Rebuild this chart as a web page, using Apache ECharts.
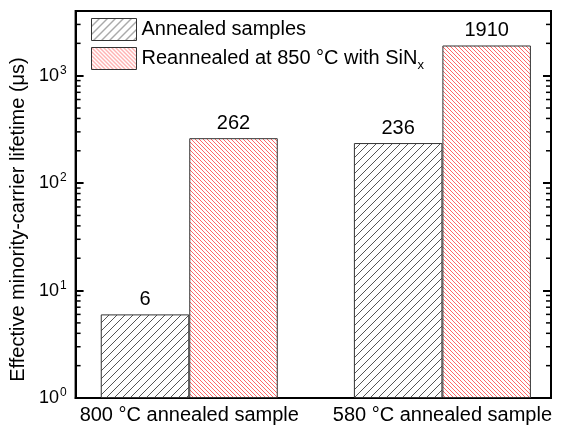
<!DOCTYPE html>
<html>
<head>
<meta charset="utf-8">
<script src="https://cdn.jsdelivr.net/npm/echarts@6/dist/echarts.min.js"></script>
<style>
  html, body { margin: 0; padding: 0; background: #fff; }
  #chart { width: 564px; height: 428px; }
</style>
</head>
<body>
<div id="chart"></div>
<script>
var categories = ['800 °C annealed sample', '580 °C annealed sample'];
var seriesNames = ['Annealed samples', 'Reannealed at 850 °C with SiNx'];
var annealed = [6, 236];
var reannealed = [262, 1910];
var yMin = 1, yMax = 4000;

// minor tick positions of the log axis (2..9 in every decade)
var minorTicks = [];
for (var d = 1; d <= 1000; d *= 10) {
  for (var k = 2; k <= 9; k++) {
    if (d * k < yMax) minorTicks.push([1, d * k]);
  }
}

function hatch(size, color, lw, back) {
  var c = document.createElement('canvas');
  c.width = size; c.height = size;
  var ctx = c.getContext('2d');
  ctx.fillStyle = '#fff';
  ctx.fillRect(0, 0, size, size);
  ctx.strokeStyle = color;
  ctx.lineWidth = lw;
  for (var o = -size; o <= size; o += size) {
    ctx.beginPath();
    if (back) {
      ctx.moveTo(o, 0); ctx.lineTo(o + size, size);
    } else {
      ctx.moveTo(o, size); ctx.lineTo(o + size, 0);
    }
    ctx.stroke();
  }
  return c;
}

var blackFill = { image: hatch(8, '#555', 1, false), repeat: 'repeat' };
var redFill = { image: hatch(4, 'rgba(255,40,40,0.7)', 1, true), repeat: 'repeat' };

// category i sits at x = i + 1 on a hidden numeric axis
function pairs(vals) {
  return vals.map(function (v, i) { return [i + 1, v]; });
}

var chart = echarts.init(document.getElementById('chart'));
var font = 'Liberation Sans, Arial, sans-serif';

var barLabel = {
  show: true, position: 'top', distance: 5, fontSize: 20, color: '#000',
  formatter: function (p) { return p.value[1]; }
};

chart.setOption({
  animation: false,
  textStyle: { fontFamily: font, color: '#000' },
  grid: {
    left: 72, right: 13, top: 11, bottom: 30,
    show: true, borderColor: '#000', borderWidth: 2
  },
  legend: {
    orient: 'vertical',
    left: 86, top: 13,
    itemWidth: 45, itemHeight: 22, itemGap: 6,
    data: [
      { name: seriesNames[0], icon: 'rect', itemStyle: { color: blackFill, borderColor: '#333', borderWidth: 1 } },
      { name: seriesNames[1], icon: 'rect', itemStyle: { color: redFill, borderColor: '#333', borderWidth: 1 } }
    ],
    textStyle: {
      fontSize: 20, color: '#000',
      rich: { sub: { fontSize: 13, verticalAlign: 'bottom', padding: [14, 0, 0, 0] } }
    },
    formatter: function (name) {
      if (name.slice(-4) === 'SiNx') return name.slice(0, -1) + '{sub|x}';
      return name;
    }
  },
  xAxis: {
    type: 'value',
    min: 0.551, max: 2.429,
    splitLine: { show: false },
    axisLine: { lineStyle: { color: '#000', width: 2 } },
    axisTick: { show: false },
    axisLabel: {
      customValues: [1, 2],
      fontSize: 20, color: '#000', margin: 7,
      formatter: function (v) { return categories[Math.round(v) - 1] || ''; }
    }
  },
  yAxis: [
    {
      type: 'log', logBase: 10, min: yMin, max: yMax,
      position: 'left',
      name: 'Effective minority-carrier lifetime (μs)',
      nameLocation: 'middle', nameGap: 36, nameRotate: 90,
      nameTextStyle: { fontSize: 20, color: '#000', padding: [0, 30, 0, 0] },
      splitLine: { show: false },
      axisLine: { show: true, lineStyle: { color: '#000', width: 2 } },
      axisTick: { inside: true, length: 8, lineStyle: { color: '#000', width: 2 } },
      axisLabel: {
        margin: 9, color: '#000',
        formatter: function (v) {
          var e = Math.log10(v);
          if (Math.abs(e - Math.round(e)) > 1e-6) return '';
          return '{b|10}{s|' + Math.round(e) + '}';
        },
        rich: {
          b: { fontSize: 18, fontFamily: font, color: '#000' },
          s: { fontSize: 12, fontFamily: font, color: '#000', padding: [0, 0, 10, 1] }
        }
      }
    },
    {
      type: 'log', logBase: 10, min: yMin, max: yMax,
      position: 'right',
      splitLine: { show: false },
      axisLine: { show: true, lineStyle: { color: '#000', width: 2 } },
      axisTick: { inside: true, length: 8, lineStyle: { color: '#000', width: 2 } },
      axisLabel: { show: false }
    }
  ],
  series: [
    {
      name: seriesNames[0],
      type: 'bar',
      barWidth: 88.5,
      barGap: '0%',
      data: pairs(annealed),
      itemStyle: { color: blackFill, borderColor: '#333', borderWidth: 1 },
      label: barLabel
    },
    {
      name: seriesNames[1],
      type: 'bar',
      barWidth: 88.5,
      barGap: '0%',
      data: pairs(reannealed),
      itemStyle: { color: redFill, borderColor: '#333', borderWidth: 1 },
      label: barLabel
    },
    {
      type: 'custom',
      silent: true,
      z: 10,
      data: minorTicks,
      renderItem: function (params, api) {
        var y = api.coord([1, api.value(1)])[1];
        var cs = params.coordSys;
        var st = { stroke: '#000', lineWidth: 1.5 };
        return {
          type: 'group',
          children: [
            { type: 'line', shape: { x1: cs.x, y1: y, x2: cs.x + 5, y2: y }, style: st },
            { type: 'line', shape: { x1: cs.x + cs.width - 5, y1: y, x2: cs.x + cs.width, y2: y }, style: st }
          ]
        };
      }
    }
  ]
});
</script>
</body>
</html>
